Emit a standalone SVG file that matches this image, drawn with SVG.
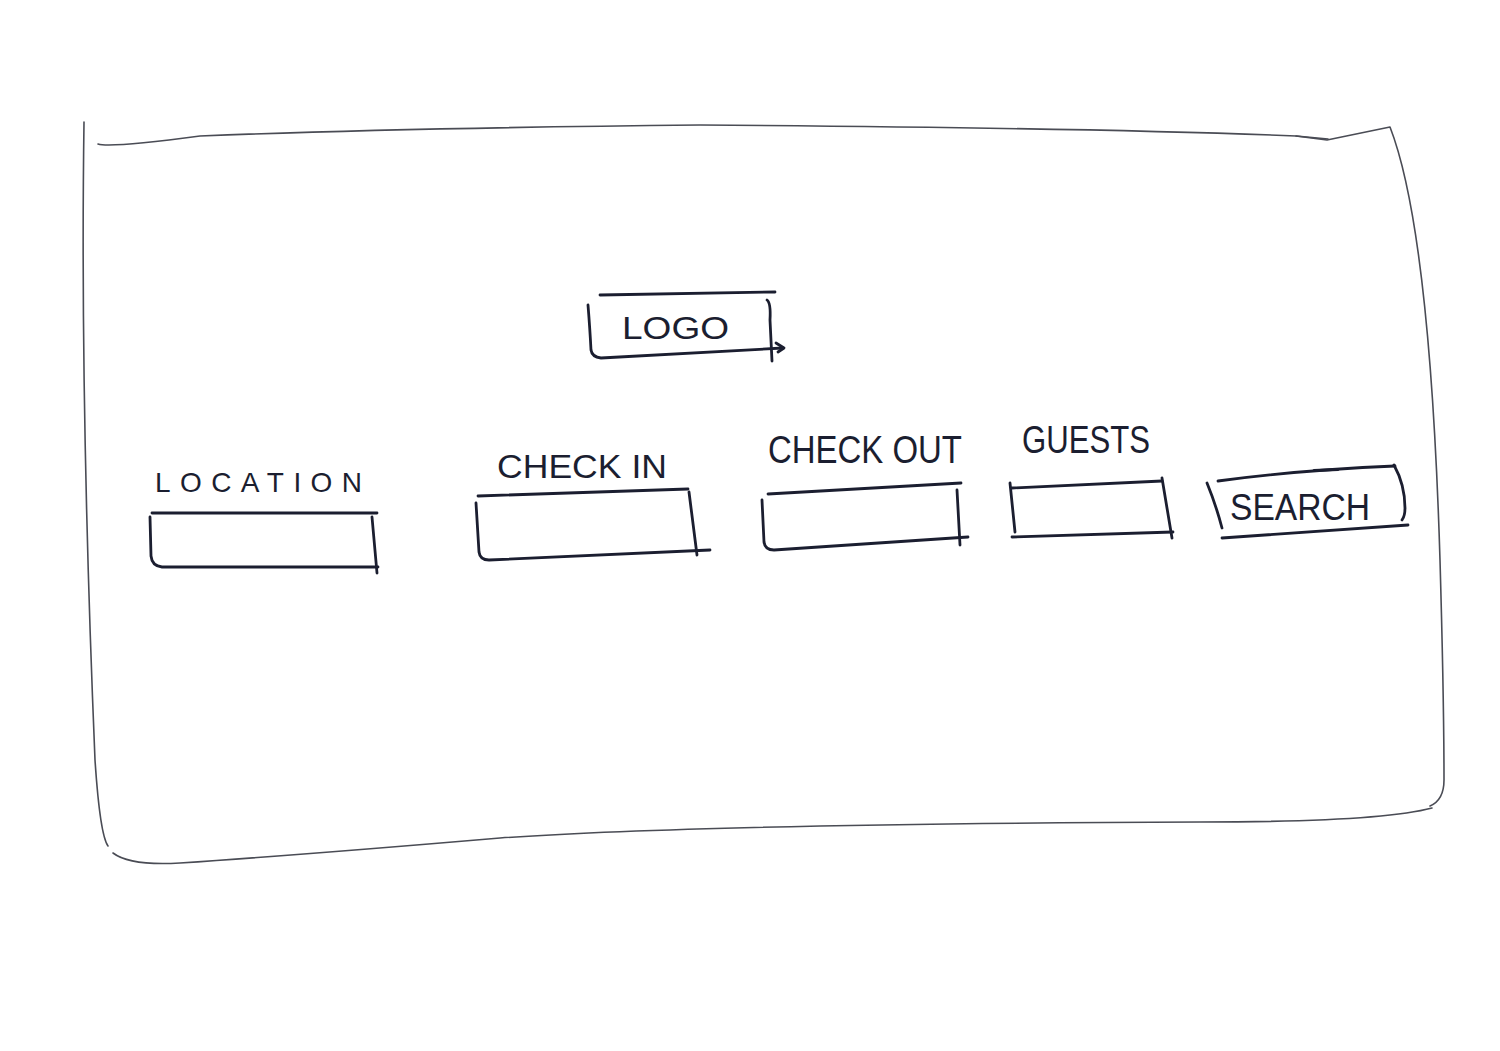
<svg xmlns="http://www.w3.org/2000/svg" width="1500" height="1051" viewBox="0 0 1500 1051">
<style>
.frame{fill:none;stroke:#4a4c55;stroke-width:1.6;stroke-linecap:round;stroke-linejoin:round}
.ink{fill:none;stroke:#1b1e30;stroke-width:2.8;stroke-linecap:round;stroke-linejoin:round}
.lbl{font-family:"Liberation Sans","DejaVu Sans",sans-serif;fill:#1b1e30;font-weight:normal}
</style>
<rect width="1500" height="1051" fill="#ffffff"/>
<g id="frame">
<path class="frame" d="M84,122 Q80,400 95,760 Q100,835 108,846"/>
<path class="frame" d="M98,144 Q110,148 200,136 Q400,128 700,125 Q1100,128 1296,136 L1328,139"/>
<path class="frame" d="M1296,136 L1327,140 L1390,127 Q1430,230 1440,560 Q1444,700 1444,780 Q1444,800 1430,806"/>
<path class="frame" d="M1432,808 Q1380,822 1200,822 Q700,824 500,838 Q300,855 180,863 Q130,866 113,853"/>
</g>
<g id="logo">
<path class="ink" d="M600,295 L775,292"/>
<path class="ink" d="M588,305 Q590,330 591,350 Q592,357 601,358 L783,348"/>
<path class="ink" d="M767,300 Q771,303 770,320 L772,361"/>
<path class="ink" d="M776,343 L784,348 L778,352"/>
<text class="lbl" x="622" y="339" font-size="32" textLength="107" lengthAdjust="spacingAndGlyphs">LOGO</text>
</g>
<g id="location">
<text class="lbl" x="155" y="492" font-size="28" textLength="207" lengthAdjust="spacing">LOCATION</text>
<path class="ink" d="M152,513 L377,513"/>
<path class="ink" d="M150,517 L151,556 Q152,566 162,567 L378,567"/>
<path class="ink" d="M372,517 L377,573"/>
</g>
<g id="checkin">
<text class="lbl" x="497" y="478" font-size="34" textLength="170" lengthAdjust="spacingAndGlyphs">CHECK IN</text>
<path class="ink" d="M478,496 L688,489"/>
<path class="ink" d="M476,503 L479,552 Q480,560 489,560 L710,550"/>
<path class="ink" d="M689,492 L697,555"/>
</g>
<g id="checkout">
<text class="lbl" x="768" y="463" font-size="38" textLength="194" lengthAdjust="spacingAndGlyphs">CHECK OUT</text>
<path class="ink" d="M768,494 L961,483"/>
<path class="ink" d="M762,500 L764,542 Q765,550 774,550 L968,537"/>
<path class="ink" d="M957,490 L960,545"/>
</g>
<g id="guests">
<text class="lbl" x="1022" y="453" font-size="38" textLength="128" lengthAdjust="spacingAndGlyphs">GUESTS</text>
<path class="ink" d="M1012,488 L1162,481"/>
<path class="ink" d="M1010,483 L1015,532"/>
<path class="ink" d="M1012,537 L1173,532"/>
<path class="ink" d="M1162,478 L1172,538"/>
</g>
<g id="search">
<path class="ink" d="M1218,481 Q1300,470 1395,466"/>
<path class="ink" d="M1314,470.5 L1338,469.5" stroke-width="4"/>
<path class="ink" d="M1207,483 Q1216,505 1222,528"/>
<path class="ink" d="M1394,465 Q1405,485 1405,508 Q1405,516 1402,520"/>
<path class="ink" d="M1222,538 L1408,525"/>
<text class="lbl" x="1230" y="520" font-size="36" textLength="140" lengthAdjust="spacingAndGlyphs">SEARCH</text>
</g>
<g id="connectors"/>
</svg>
